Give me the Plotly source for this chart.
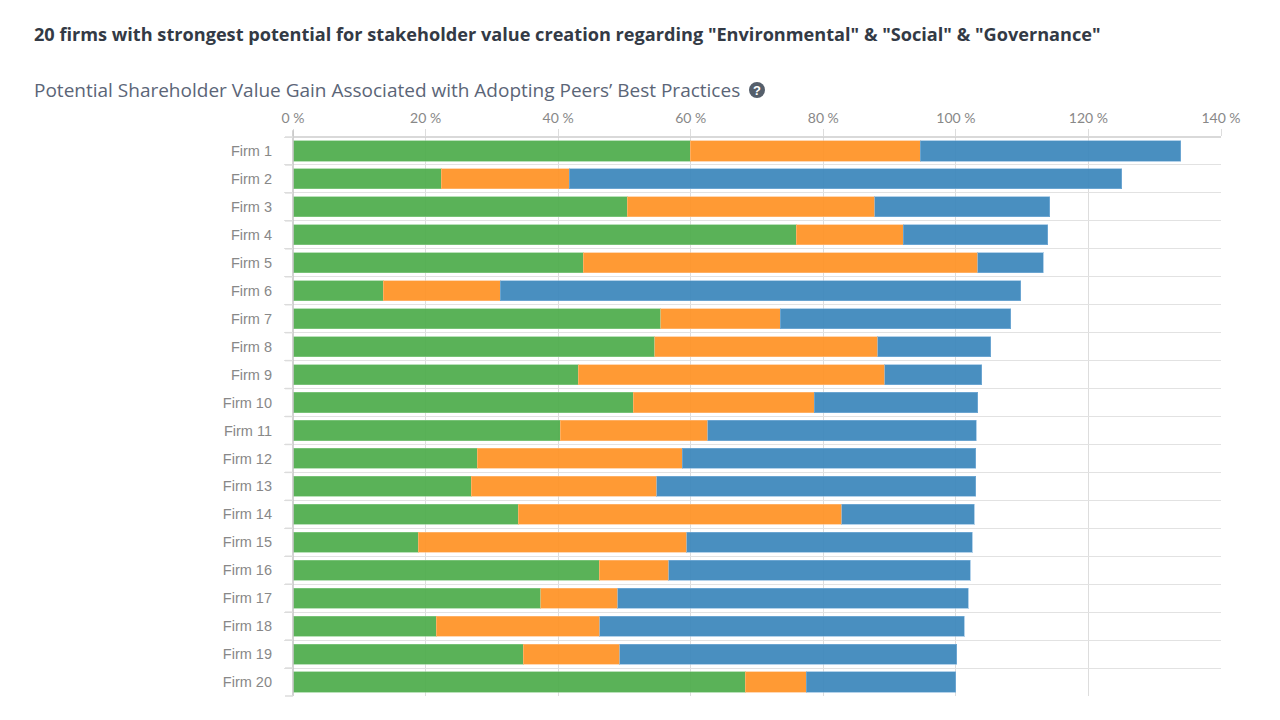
import plotly.graph_objects as go

firms = ["Firm %d" % i for i in range(1, 21)]
environmental = [59.9, 22.4, 50.4, 75.9, 43.8, 13.6, 55.5, 54.6, 43.0, 51.3,
                 40.3, 27.8, 26.9, 34.0, 18.9, 46.2, 37.4, 21.6, 34.7, 68.2]
social = [34.7, 19.3, 37.4, 16.2, 59.5, 17.7, 18.0, 33.6, 46.3, 27.3,
          22.3, 30.9, 28.0, 48.8, 40.5, 10.5, 11.6, 24.7, 14.6, 9.2]
governance = [39.3, 83.3, 26.4, 21.8, 9.9, 78.5, 34.8, 17.1, 14.6, 24.7,
              40.5, 44.3, 48.1, 20.0, 43.1, 45.5, 52.9, 55.0, 50.8, 22.6]
x_ticks = [0, 20, 40, 60, 80, 100, 120, 140]
x_labels = ["0 %", "20 %", "40 %", "60 %", "80 %", "100 %", "120 %", "140 %"]

title = '20 firms with strongest potential for stakeholder value creation regarding "Environmental" & "Social" & "Governance"'
subtitle = "Potential Shareholder Value Gain Associated with Adopting Peers\u2019 Best Practices"

# page body has an 8px margin, so everything is shifted by that
W, H = 1264, 700
L, T, PW, PH = 284.5, 129, 929, 559


def px(x):
    return (x - 8 - L) / PW


def py(y):
    return 1 - (y - 8 - T) / PH


fig = go.Figure()
for name, vals, col, edge in [
    ("Environmental", environmental, "rgba(76,171,74,0.92)", "rgba(140,205,140,0.6)"),
    ("Social", social, "rgba(255,145,35,0.92)", "rgba(255,190,130,0.6)"),
    ("Governance", governance, "rgba(58,133,187,0.92)", "rgba(130,180,220,0.6)"),
]:
    fig.add_trace(go.Bar(y=firms, x=vals, name=name, orientation="h",
                         marker=dict(color=col, line=dict(color=edge, width=1))))

# little ticks left of the axis at the row boundaries
row_ticks = [dict(type="line", xref="paper", yref="paper", x0=-8 / PW, x1=0,
                  y0=i / len(firms), y1=i / len(firms),
                  line=dict(color="#dcdcdc", width=1.5))
             for i in range(len(firms) + 1)]

fig.update_layout(
    barmode="stack", bargap=0.28, width=W, height=H, showlegend=False,
    margin=dict(l=L, r=W - L - PW, t=T, b=H - T - PH),
    paper_bgcolor="white", plot_bgcolor="white",
    xaxis=dict(side="top", range=[0, 140], tickvals=x_ticks, ticktext=x_labels,
               ticks="outside", ticklen=7, tickcolor="#dddddd", gridcolor="#dddddd",
               showline=False, zeroline=False,
               tickfont=dict(family="Lato", size=14, color="#888888")),
    yaxis=dict(autorange="reversed", tickson="boundaries", ticks="outside", ticklen=8,
               tickcolor="#e2e2e2", gridcolor="#e2e2e2", showline=False, zeroline=False,
               ticklabelstandoff=20,
               tickfont=dict(family="Liberation Sans", size=14.5, color="#888888")),
    annotations=[
        dict(text="<b>" + title + "</b>", xref="paper", yref="paper", x=px(31), y=py(34),
             xanchor="left", yanchor="middle", showarrow=False,
             font=dict(family="Open Sans", size=18.15, color="#333a45")),
        dict(text=subtitle, xref="paper", yref="paper", x=px(31), y=py(89.5),
             xanchor="left", yanchor="middle", showarrow=False,
             font=dict(family="Open Sans", size=19, color="#5b6577")),
        dict(text="<b>?</b>", xref="paper", yref="paper", x=px(757), y=py(90),
             xanchor="center", yanchor="middle", showarrow=False,
             font=dict(family="Liberation Sans", size=13, color="white")),
    ],
    shapes=[
        dict(type="circle", xref="paper", yref="paper", xsizemode="pixel", ysizemode="pixel",
             xanchor=px(757), yanchor=py(90), x0=-8, x1=8, y0=-8, y1=8,
             fillcolor="#555f6b", line=dict(width=0), layer="below"),
        dict(type="line", xref="paper", yref="paper", x0=0, x1=0, y0=0, y1=1.012,
             line=dict(color="#c4c4c4", width=1.5)),
        dict(type="line", xref="paper", yref="paper", x0=0, x1=1, y0=1, y1=1,
             line=dict(color="#cccccc", width=1.5)),
    ] + row_ticks,
)

fig.write_html("out.html")
